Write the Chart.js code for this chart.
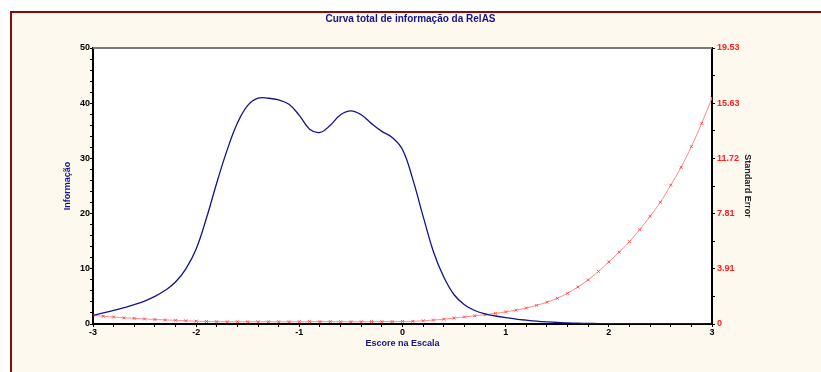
<!DOCTYPE html>
<html>
<head>
<meta charset="utf-8">
<script src="https://cdn.jsdelivr.net/npm/chart.js@4"></script>
<style>
  html, body { margin: 0; padding: 0; background: #fff; }
  .chart-box { width: 821px; height: 372px; position: relative; }
</style>
</head>
<body>
<div class="chart-box"><canvas id="info-chart"></canvas></div>
<script>
const scores = [-3, -2.9, -2.8, -2.7, -2.6, -2.5, -2.4, -2.3, -2.2, -2.1,
    -2, -1.9, -1.8, -1.7, -1.6, -1.5, -1.4, -1.3, -1.2, -1.1,
    -1, -0.9, -0.8, -0.7, -0.6, -0.5, -0.4, -0.3, -0.2, -0.1,
    0, 0.1, 0.2, 0.3, 0.4, 0.5, 0.6, 0.7, 0.8, 0.9,
    1, 1.1, 1.2, 1.3, 1.4, 1.5, 1.6, 1.7, 1.8, 1.9,
    2, 2.1, 2.2, 2.3, 2.4, 2.5, 2.6, 2.7, 2.8, 2.9, 3];

const information = [1.57, 2.0, 2.45, 2.95, 3.5, 4.15, 5.0, 6.1, 7.6, 10.0,
    13.6, 19.2, 25.6, 31.5, 36.4, 39.6, 40.9, 40.9, 40.6, 39.8,
    37.8, 35.3, 34.7, 36.0, 37.9, 38.6, 37.9, 36.3, 34.9, 33.8,
    31.6, 26.2, 19.5, 13.1, 8.5, 5.3, 3.5, 2.45, 1.85, 1.45,
    1.14, 0.9, 0.7, 0.52, 0.38, 0.27, 0.2, 0.15, 0.11, 0.08,
    0.06, 0.045, 0.035, 0.025, 0.02, 0.015, 0.012, 0.009, 0.007, 0.005, 0.004];

const standardError = [0.62, 0.55, 0.49, 0.44, 0.40, 0.36, 0.32, 0.29, 0.26, 0.23,
    0.20, 0.18, 0.17, 0.16, 0.16, 0.16, 0.16, 0.16, 0.16, 0.16,
    0.16, 0.17, 0.17, 0.17, 0.16, 0.16, 0.16, 0.17, 0.17, 0.17,
    0.18, 0.19, 0.23, 0.28, 0.34, 0.42, 0.50, 0.58, 0.66, 0.75,
    0.86, 0.98, 1.13, 1.32, 1.54, 1.82, 2.17, 2.62, 3.12, 3.72,
    4.39, 5.08, 5.83, 6.68, 7.62, 8.62, 9.82, 11.09, 12.55, 14.2, 16.0];

const seTickValues = [0, 3.906, 7.812, 11.718, 15.624, 19.53];
const seTickLabels = ['0', '3.91', '7.81', '11.72', '15.63', '19.53'];

const tickFont = { family: 'Liberation Sans, Arial, sans-serif', size: 9, weight: 'bold' };
const navy = '#14148a';

function points(xs, ys) {
    return xs.map((x, i) => ({ x: x, y: ys[i] }));
}

// fundo creme com moldura vermelha + area branca do grafico
const frameBackground = {
    id: 'frameBackground',
    beforeDraw(chart) {
        const c = chart.ctx, a = chart.chartArea;
        c.save();
        c.fillStyle = '#ffffff';
        c.fillRect(0, 0, chart.width, chart.height);
        c.fillStyle = '#fdf9ef';
        c.fillRect(11, 12, chart.width - 11, chart.height - 12);
        c.strokeStyle = '#8b0a0a';
        c.lineWidth = 2;
        c.beginPath();
        c.moveTo(11, chart.height);
        c.lineTo(11, 12);
        c.lineTo(chart.width, 12);
        c.stroke();
        c.fillStyle = '#ffffff';
        c.fillRect(a.left, a.top, a.right - a.left, a.bottom - a.top);
        c.restore();
    },
    afterDraw(chart) {
        const c = chart.ctx, a = chart.chartArea;
        c.save();
        c.strokeStyle = '#7a7a7a';
        c.lineWidth = 2;
        c.beginPath();
        c.moveTo(a.left, a.top);
        c.lineTo(a.right, a.top);
        c.stroke();
        c.restore();
    }
};

const isInt = v => Math.abs(v - Math.round(v)) < 1e-6;

const chart = new Chart(document.getElementById('info-chart'), {
    type: 'line',
    data: {
        datasets: [
            {
                label: 'Informação',
                data: points(scores, information),
                yAxisID: 'y',
                borderColor: navy,
                borderWidth: 1.3,
                pointRadius: 0,
                tension: 0.4,
                fill: false,
            },
            {
                label: 'Standard Error',
                data: points(scores, standardError),
                yAxisID: 'y2',
                borderColor: '#ff8a8a',
                borderWidth: 1,
                pointStyle: 'crossRot',
                pointRadius: 2,
                pointBorderColor: '#ff5050',
                pointBorderWidth: 1,
                tension: 0.3,
                fill: false,
            }
        ]
    },
    options: {
        responsive: true,
        maintainAspectRatio: false,
        animation: false,
        layout: { padding: 0 },
        scales: {
            x: {
                type: 'linear',
                min: -3,
                max: 3,
                afterFit(scale) { scale.height = 48; },
                grid: { drawOnChartArea: false, tickLength: 3, tickColor: '#000', tickWidth: 1 },
                border: { color: '#000', width: 2 },
                ticks: {
                    stepSize: 0.2,
                    autoSkip: false,
                    maxRotation: 0,
                    padding: 0,
                    color: '#000',
                    font: tickFont,
                    callback: v => isInt(v) ? String(Math.round(v)) : ''
                },
                title: {
                    display: true,
                    text: 'Escore na Escala',
                    color: navy,
                    font: tickFont,
                    padding: { top: 0, bottom: 22.6 }
                }
            },
            y: {
                position: 'left',
                min: 0,
                max: 50,
                afterFit(scale) { scale.width = 93; },
                grid: { drawOnChartArea: false, tickLength: 3, tickColor: '#000', tickWidth: 1 },
                border: { color: '#000', width: 2 },
                ticks: {
                    stepSize: 2,
                    autoSkip: false,
                    padding: 0,
                    color: '#000',
                    font: tickFont,
                    callback: v => v % 10 === 0 ? String(v) : ''
                },
                title: {
                    display: true,
                    text: 'Informação',
                    color: navy,
                    font: tickFont,
                    padding: { top: 62.6, bottom: 0 }
                }
            },
            y2: {
                position: 'right',
                min: 0,
                max: 19.53,
                afterFit(scale) { scale.width = 109; },
                afterBuildTicks(scale) {
                    const t = [];
                    seTickValues.forEach((v, i) => {
                        t.push({ value: v });
                        if (i < seTickValues.length - 1) t.push({ value: (v + seTickValues[i + 1]) / 2 });
                    });
                    scale.ticks = t;
                },
                grid: { drawOnChartArea: false, tickLength: 3, tickColor: '#000', tickWidth: 1 },
                border: { color: '#000', width: 2 },
                ticks: {
                    autoSkip: false,
                    padding: 2,
                    color: '#ff2020',
                    font: tickFont,
                    callback: (v, i) => i % 2 === 0 ? seTickLabels[i / 2] : ''
                },
                title: {
                    display: true,
                    text: 'Standard Error',
                    color: '#222',
                    font: tickFont,
                    padding: { top: 68.6, bottom: 0 }
                }
            }
        },
        plugins: {
            legend: { display: false },
            tooltip: { enabled: false },
            title: {
                display: true,
                text: 'Curva total de informação da RelAS',
                color: navy,
                font: { family: 'Liberation Sans, Arial, sans-serif', size: 10, weight: 'bold' },
                padding: { top: 13, bottom: 23 }
            }
        }
    },
    plugins: [frameBackground]
});
</script>
</body>
</html>
